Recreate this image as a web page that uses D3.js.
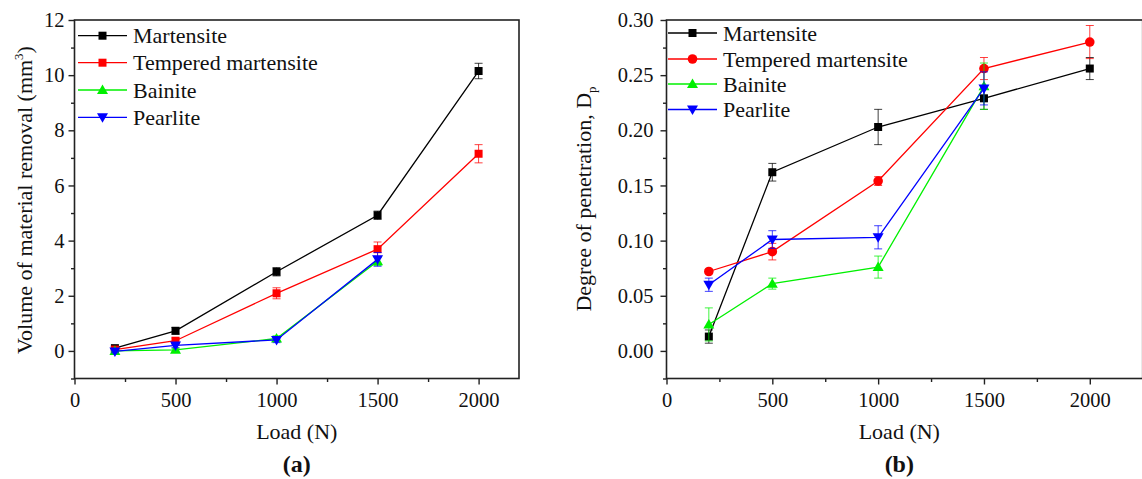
<!DOCTYPE html>
<html>
<head>
<meta charset="utf-8">
<script src="https://cdn.jsdelivr.net/npm/d3@7"></script>
<style>
  body { margin: 0; background: #fff; }
  svg text { font-family: "Liberation Serif", "Times New Roman", serif; fill: #111; }
</style>
</head>
<body>
<div id="chart"></div>
<script>
// shared x values
const loads = [200, 500, 1000, 1500, 2000];
const names = ["Martensite", "Tempered martensite", "Bainite", "Pearlite"];
const colors = ["#000000", "#ff0000", "#00f000", "#0000ff"];

// (a) volume of material removal, mm^3
const volMartensite = [0.10, 0.73, 2.87, 4.92, 10.15];
const volMartensiteErr = [0.05, 0.12, 0.15, 0.15, 0.28];
const volTempered = [0.05, 0.37, 2.09, 3.69, 7.15];
const volTemperedErr = [0.04, 0.10, 0.20, 0.26, 0.33];
const volBainite = [0.00, 0.04, 0.45, 3.25, null];
const volBainiteErr = [0.03, 0.05, 0.10, 0.15, null];
const volPearlite = [-0.02, 0.20, 0.40, 3.32, null];
const volPearliteErr = [0.05, 0.08, 0.10, 0.25, null];

// (b) degree of penetration, Dp
const dpMartensite = [0.013, 0.162, 0.203, 0.229, 0.256];
const dpMartensiteErr = [0.006, 0.008, 0.016, 0.010, 0.010];
const dpTempered = [0.072, 0.090, 0.154, 0.256, 0.280];
const dpTemperedErr = [0.002, 0.0075, 0.004, 0.010, 0.015];
const dpBainite = [0.024, 0.061, 0.076, 0.240, null];
const dpBainiteErr = [0.015, 0.005, 0.010, 0.021, null];
const dpPearlite = [0.060, 0.101, 0.103, 0.238, null];
const dpPearliteErr = [0.006, 0.008, 0.0105, 0.015, null];

// ticks
const xMajor = [0, 500, 1000, 1500, 2000];
const xMinor = [250, 750, 1250, 1750];
const volMajor = [0, 2, 4, 6, 8, 10, 12];
const volMinor = [-1, 1, 3, 5, 7, 9, 11];
const dpMajor = [0, 0.05, 0.10, 0.15, 0.20, 0.25, 0.30];
const dpMinor = [-0.025, 0.025, 0.075, 0.125, 0.175, 0.225, 0.275];

const svg = d3.select("#chart").append("svg")
    .attr("width", 1142).attr("height", 479);

function makeSeries(vals, errs) {
    return vals.map((v, i) => ({ x: loads[i], y: v, e: errs[i] })).filter(d => d.y !== null);
}

function marker(g, shape, color, cx, cy) {
    if (shape === "square") {
        g.append("rect").attr("x", cx - 4).attr("y", cy - 4).attr("width", 8).attr("height", 8)
            .attr("fill", color);
    } else if (shape === "circle") {
        g.append("circle").attr("cx", cx).attr("cy", cy).attr("r", 4.8).attr("fill", color);
    } else if (shape === "up") {
        g.append("path").attr("d", `M${cx},${cy - 5.5}L${cx + 5.5},${cy + 4}L${cx - 5.5},${cy + 4}Z`)
            .attr("fill", color);
    } else {
        g.append("path").attr("d", `M${cx},${cy + 5.5}L${cx + 5.5},${cy - 4}L${cx - 5.5},${cy - 4}Z`)
            .attr("fill", color);
    }
}

function drawPanel(p) {
    const x = d3.scaleLinear().domain(p.xDomain).range([p.left, p.right]);
    const y = d3.scaleLinear().domain(p.yDomain).range([378.5, 20]);
    const g = svg.append("g");

    // axes, ticks outside on left and bottom
    g.append("g").attr("transform", "translate(0,378.5)")
        .call(d3.axisBottom(x).tickValues(xMajor).tickSize(6).tickPadding(8).tickFormat(d3.format("d")));
    g.append("g").attr("transform", "translate(0,378.5)")
        .call(d3.axisBottom(x).tickValues(xMinor).tickSize(3.5).tickFormat(""));
    g.append("g").attr("transform", `translate(${p.left},0)`)
        .call(d3.axisLeft(y).tickValues(p.yMajor).tickSize(6).tickPadding(p.yPad).tickFormat(p.yFormat));
    g.append("g").attr("transform", `translate(${p.left},0)`)
        .call(d3.axisLeft(y).tickValues(p.yMinor).tickSize(3.5).tickFormat(""));
    g.selectAll(".domain").remove();
    g.selectAll(".tick line").attr("stroke", "#222").attr("stroke-width", 1.4);
    g.selectAll(".tick text").attr("font-size", 20.5).attr("fill", "#111");

    g.append("rect").attr("x", p.left).attr("y", 20)
        .attr("width", x(p.xDomain[1]) - p.left).attr("height", 358.5)
        .attr("fill", "none").attr("stroke", "#222").attr("stroke-width", 1.6);

    const line = d3.line().x(d => x(d.x)).y(d => y(d.y));
    p.series.forEach((s, k) => {
        const data = makeSeries(s.vals, s.errs);
        const sg = g.append("g");
        sg.append("path").datum(data).attr("d", line)
            .attr("fill", "none").attr("stroke", colors[k]).attr("stroke-width", 1.3);
        data.forEach(d => {
            const x0 = x(d.x), y1 = y(d.y + d.e), y2 = y(d.y - d.e);
            sg.append("path")
                .attr("d", `M${x0},${y1}V${y2}M${x0 - 4},${y1}H${x0 + 4}M${x0 - 4},${y2}H${x0 + 4}`)
                .attr("stroke", colors[k]).attr("stroke-width", 1).attr("fill", "none")
                .attr("opacity", 0.75);
            marker(sg, s.shape, colors[k], x0, y(d.y));
        });
    });

    // legend
    p.series.forEach((s, k) => {
        const ly = p.legY[k];
        g.append("line").attr("x1", p.legX).attr("x2", p.legX + 49).attr("y1", ly).attr("y2", ly)
            .attr("stroke", colors[k]).attr("stroke-width", 1.3);
        marker(g, s.shape, colors[k], p.legX + 24.5, ly);
        g.append("text").attr("x", p.legX + 55).attr("y", ly + 7.5)
            .attr("font-size", 22).text(names[k]);
    });

    const cx = (p.left + x(2200)) / 2;
    g.append("text").attr("x", cx).attr("y", 439).attr("text-anchor", "middle")
        .attr("font-size", 22).text("Load (N)");
    g.append("text").attr("x", cx).attr("y", 472).attr("text-anchor", "middle")
        .attr("font-size", 24).attr("font-weight", "bold").text(p.tag);

    const yt = g.append("text").attr("transform", `translate(${p.yTitleX},${p.yTitleY}) rotate(-90)`)
        .attr("text-anchor", "middle").attr("font-size", 22);
    yt.append("tspan").text(p.yTitle);
    yt.append("tspan").attr("font-size", 13).attr("dy", p.supDy).text(p.yTitleSup);
    if (p.yTitleEnd) yt.append("tspan").attr("dy", -p.supDy).text(p.yTitleEnd);
}

drawPanel({
    left: 74.5, right: 519, xDomain: [0, 2200], yDomain: [-1, 12],
    yMajor: volMajor, yMinor: volMinor, yFormat: d3.format("d"), yPad: 4,
    series: [
        { vals: volMartensite, errs: volMartensiteErr, shape: "square" },
        { vals: volTempered, errs: volTemperedErr, shape: "square" },
        { vals: volBainite, errs: volBainiteErr, shape: "up" },
        { vals: volPearlite, errs: volPearliteErr, shape: "down" }
    ],
    legX: 78, legY: [35.7, 62.7, 90, 117.3], tag: "(a)",
    yTitle: "Volume of material removal (mm", yTitleSup: "3", supDy: -9, yTitleEnd: ")",
    yTitleX: 32, yTitleY: 200
});

drawPanel({
    left: 666.5, right: 1142.7, xDomain: [0, 2250], yDomain: [-0.025, 0.30],
    yMajor: dpMajor, yMinor: dpMinor, yFormat: d3.format(".2f"), yPad: 7,
    series: [
        { vals: dpMartensite, errs: dpMartensiteErr, shape: "square" },
        { vals: dpTempered, errs: dpTemperedErr, shape: "circle" },
        { vals: dpBainite, errs: dpBainiteErr, shape: "up" },
        { vals: dpPearlite, errs: dpPearliteErr, shape: "down" }
    ],
    legX: 668, legY: [33, 59, 84, 109.5], tag: "(b)",
    yTitle: "Degree of penetration, D", yTitleSup: "p", supDy: 5, yTitleEnd: null,
    yTitleX: 591, yTitleY: 199
});
</script>
</body>
</html>
